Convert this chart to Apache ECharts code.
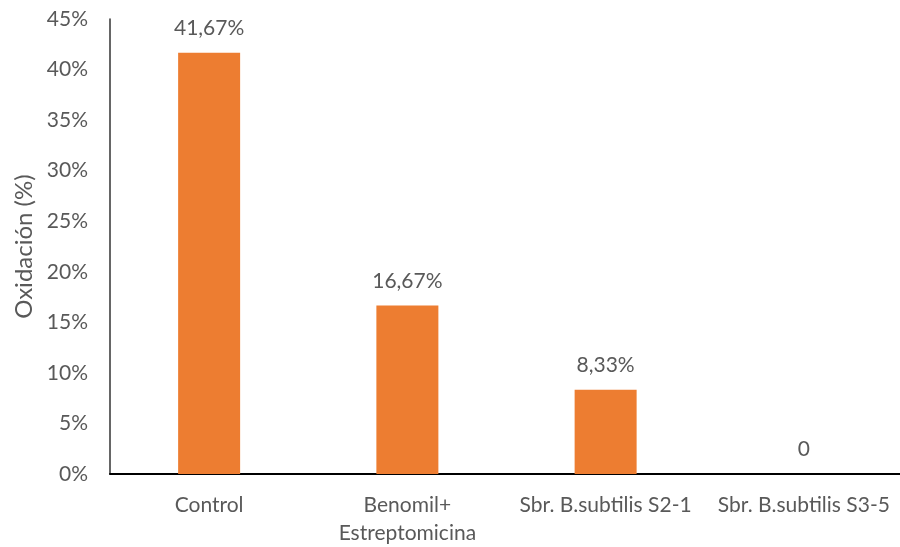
<!DOCTYPE html>
<html>
<head>
<meta charset="utf-8">
<script src="https://cdn.jsdelivr.net/npm/echarts@6/dist/echarts.min.js"></script>
<style>
  html, body { margin: 0; padding: 0; background: #fff; }
  #chart { width: 900px; height: 547px; }
</style>
</head>
<body>
<div id="chart"></div>
<script>
// Treatments and oxidation percentages
const categories = ['Control', 'Benomil+\nEstreptomicina', 'Sbr. B.subtilis S2-1', 'Sbr. B.subtilis S3-5'];
const oxidation = [41.67, 16.67, 8.33, 0];
const valueLabels = ['41,67%', '16,67%', '8,33%', '0'];
const yTicks = [0, 5, 10, 15, 20, 25, 30, 35, 40, 45];

const font = 'Lato, "Open Sans", sans-serif';
const textColor = '#595959';
const fs = 21;

const chart = echarts.init(document.getElementById('chart'), null, { renderer: 'canvas' });
chart.setOption({
  animation: false,
  grid: {
    left: 110, right: -3, top: 19, bottom: 73,
    containLabel: false, outerBoundsMode: 'none'
  },
  xAxis: {
    type: 'category',
    data: categories,
    axisLine: { show: true, lineStyle: { color: '#000', width: 2 } },
    axisTick: { show: false },
    axisLabel: {
      color: textColor, fontFamily: font, fontSize: fs, margin: 17,
      lineHeight: 28, interval: 0
    }
  },
  yAxis: {
    type: 'value',
    min: yTicks[0],
    max: yTicks[yTicks.length - 1],
    interval: 5,
    name: 'Oxidación (%)',
    nameLocation: 'middle',
    nameRotate: 90,
    nameGap: 66,
    nameTextStyle: { color: textColor, fontFamily: font, fontSize: 24 },
    axisLine: { show: true, lineStyle: { color: '#333', width: 1.5 } },
    axisTick: { show: false },
    splitLine: { show: false },
    axisLabel: {
      color: textColor, fontFamily: font, fontSize: fs, margin: 22,
      formatter: v => v + '%'
    }
  },
  series: [{
    type: 'bar',
    data: oxidation,
    barWidth: 62,
    itemStyle: { color: '#ED7D31' },
    label: {
      show: true,
      position: 'top',
      distance: 14,
      color: textColor,
      fontFamily: font,
      fontSize: fs,
      formatter: p => valueLabels[p.dataIndex]
    }
  }]
});
</script>
</body>
</html>
